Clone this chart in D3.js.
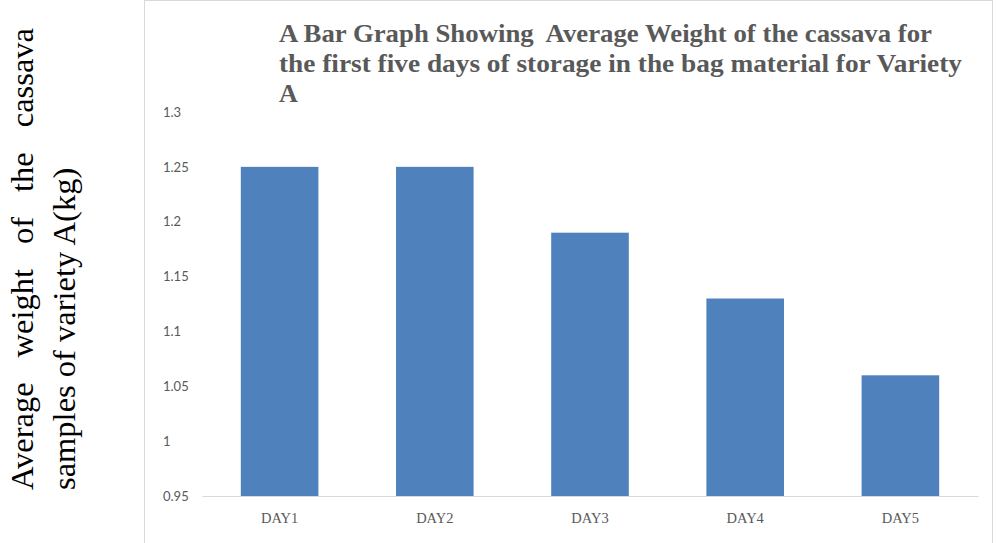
<!DOCTYPE html>
<html>
<head>
<meta charset="utf-8">
<script src="https://cdn.jsdelivr.net/npm/d3@7"></script>
<style>
  html, body { margin: 0; padding: 0; background: #ffffff; }
  svg { display: block; }
</style>
</head>
<body>
<svg id="chart" width="996" height="543"></svg>
<script>
// Average weight of cassava (variety A) stored in bag material, days 1-5
const days = ["DAY1", "DAY2", "DAY3", "DAY4", "DAY5"];
const weights = [1.25, 1.25, 1.19, 1.13, 1.06];
const yTicks = [0.95, 1, 1.05, 1.1, 1.15, 1.2, 1.25, 1.3];
const titleLines = [
  "A Bar Graph Showing  Average Weight of the cassava for",
  "the first five days of storage in the bag material for Variety",
  "A"
];
const yTitleLines = ["Average weight of the cassava", "samples of variety A(kg)"];

const svg = d3.select("#chart");

// chart area frame
svg.append("rect")
  .attr("x", 144.5).attr("y", 0.5)
  .attr("width", 848).attr("height", 545)
  .attr("fill", "#ffffff")
  .attr("stroke", "#d9d9d9")
  .attr("stroke-width", 1);

const x = d3.scaleBand()
  .domain(days)
  .range([202, 978])
  .paddingInner(0.5)
  .paddingOuter(0.25);

const y = d3.scaleLinear()
  .domain([0.95, 1.3])
  .range([496, 112]);

// bars
svg.append("g")
  .selectAll("rect")
  .data(days.map((d, i) => ({ day: d, value: weights[i] })))
  .join("rect")
  .attr("x", d => x(d.day))
  .attr("y", d => y(d.value))
  .attr("width", x.bandwidth())
  .attr("height", d => y(0.95) - y(d.value))
  .attr("fill", "#4f81bd");

// y axis labels (left aligned, no line)
const yAxis = svg.append("g")
  .attr("transform", "translate(163,0)")
  .call(d3.axisLeft(y)
    .tickValues(yTicks)
    .tickSize(0)
    .tickPadding(0)
    .tickFormat(d => String(+d.toFixed(2))));
yAxis.select(".domain").remove();
yAxis.selectAll("text")
  .attr("text-anchor", "start")
  .attr("x", 0)
  .attr("fill", "#595959")
  .style("font-family", "Lato, 'Open Sans', sans-serif")
  .style("font-size", "13px");

// x axis
const xAxis = svg.append("g")
  .attr("transform", "translate(0,496)")
  .call(d3.axisBottom(x).tickSize(0).tickSizeOuter(0).tickPadding(17));
xAxis.select(".domain").attr("stroke", "#d9d9d9").attr("stroke-width", 1.2);
xAxis.selectAll("text")
  .attr("fill", "#595959")
  .style("font-family", "'Liberation Serif', serif")
  .style("font-size", "14.5px");

// title
const titleWidths = [653, 683, null];
svg.append("g")
  .selectAll("text")
  .data(titleLines)
  .join("text")
  .attr("x", 279)
  .attr("y", (d, i) => 42 + i * 30)
  .attr("fill", "#595959")
  .style("font-family", "'Liberation Serif', serif")
  .style("font-weight", "bold")
  .style("font-size", "26px")
  .style("white-space", "pre")
  .attr("xml:space", "preserve")
  .text(d => d)
  .each(function (d, i) {
    if (titleWidths[i]) {
      d3.select(this)
        .attr("textLength", titleWidths[i])
        .attr("lengthAdjust", "spacingAndGlyphs");
    }
  });

// rotated y title, first line justified
const yTitleBottom = 490, yTitleTop = 28;
const baselines = [33, 75];
yTitleLines.forEach((line, li) => {
  const g = svg.append("g")
    .attr("transform", `translate(${baselines[li]},${yTitleBottom}) rotate(-90)`)
    .style("font-family", "'Liberation Serif', 'Times New Roman', serif")
    .style("font-size", "32.5px")
    .attr("fill", "#000000");
  const words = line.split(" ");
  if (li === 0) {
    const nodes = words.map(w => g.append("text").text(w));
    const widths = nodes.map(n => n.node().getComputedTextLength());
    const total = d3.sum(widths);
    const gap = ((yTitleBottom - yTitleTop) - total) / (words.length - 1);
    let pos = 0;
    nodes.forEach((n, i) => {
      n.attr("x", pos);
      pos += widths[i] + gap;
    });
  } else {
    g.append("text").attr("x", 0).text(line);
  }
});
</script>
</body>
</html>
